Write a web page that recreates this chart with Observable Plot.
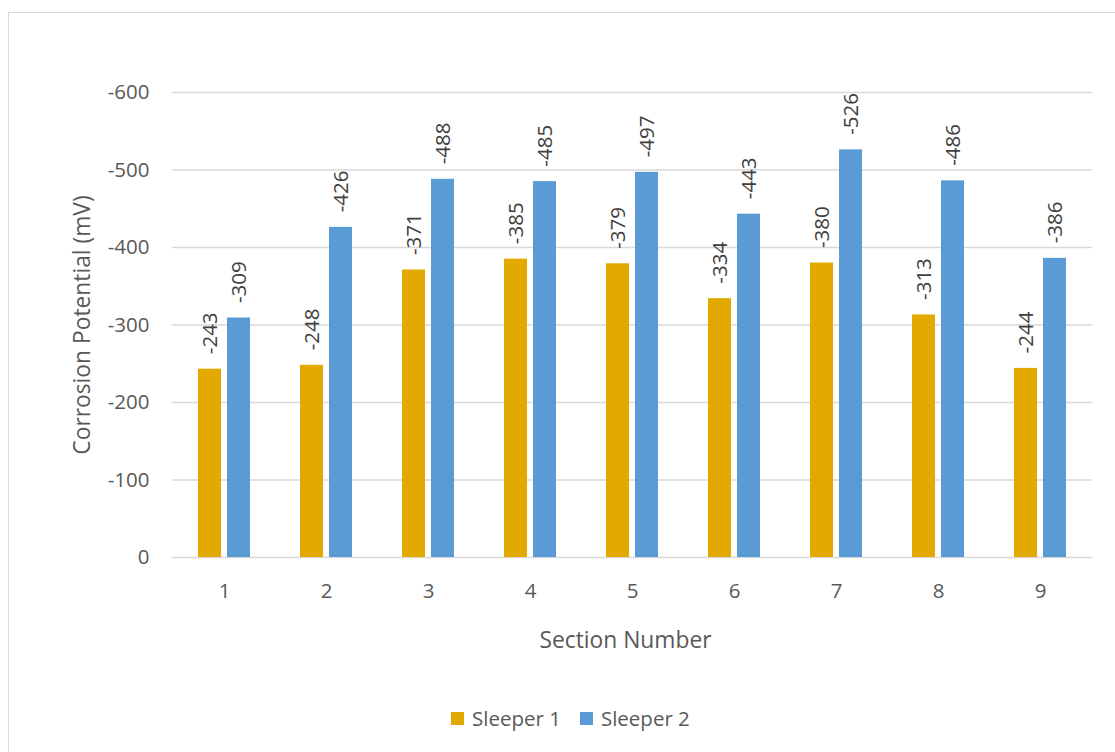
<!DOCTYPE html>
<html>
<head>
<meta charset="utf-8">
<script src="https://cdn.jsdelivr.net/npm/d3@7"></script>
<script src="https://cdn.jsdelivr.net/npm/@observablehq/plot@0.6"></script>
<style>
  html, body { margin: 0; padding: 0; background: #fff; }
  body { width: 1115px; height: 752px; position: relative; overflow: hidden; font-family: "Open Sans", sans-serif; }
  #frame { position: absolute; left: 8px; top: 12px; width: 1200px; height: 800px; border: 1px solid #d9d9d9; box-sizing: border-box; }
  #chart { position: absolute; left: 0; top: 0; }
  #legend { position: absolute; left: 451px; top: 704px; display: flex; align-items: center; font-size: 20.5px; color: #595959; }
  .item { display: flex; align-items: center; margin-right: 19px; }
  .swatch { width: 13px; height: 13px; margin-right: 8px; }
</style>
</head>
<body>
<div id="frame"></div>
<div id="chart"></div>
<div id="legend"></div>
<script>
// Half-cell corrosion potential per section, two sleepers (mV)
const sections = [1, 2, 3, 4, 5, 6, 7, 8, 9];
const sleeper1 = [-243, -248, -371, -385, -379, -334, -380, -313, -244];
const sleeper2 = [-309, -426, -488, -485, -497, -443, -526, -486, -386];
const yTicks = [0, -100, -200, -300, -400, -500, -600];
const seriesNames = ["Sleeper 1", "Sleeper 2"];
const seriesColors = ["#E2AA00", "#5B9BD5"];
const xTitle = "Section Number";
const yTitle = "Corrosion Potential (mV)";

const rows1 = sections.map((s, i) => ({section: s, value: sleeper1[i]}));
const rows2 = sections.map((s, i) => ({section: s, value: sleeper2[i]}));

const labelStyle = {fontSize: 20.5, fill: "#404040", rotate: -90, textAnchor: "start", lineAnchor: "middle", dy: -15};

const chart = Plot.plot({
  width: 1115,
  height: 680,
  marginLeft: 172,
  marginRight: 23,
  marginTop: 92,
  marginBottom: 123,
  style: {fontFamily: "Open Sans, sans-serif", fontSize: "20.5px", color: "#595959", background: "transparent"},
  x: {
    domain: sections,
    paddingInner: 0.49,
    paddingOuter: 0.245,
    tickSize: 0,
    tickPadding: 26,
    label: xTitle,
    labelAnchor: "center",
    labelOffset: 90
  },
  y: {
    domain: [0, -600],
    ticks: yTicks,
    tickSize: 0,
    tickPadding: 23,
    tickFormat: d => String(d),
    label: yTitle,
    labelAnchor: "center",
    labelOffset: 99
  },
  marks: [
    Plot.ruleY(yTicks, {stroke: "#d9d9d9", strokeWidth: 1.5}),
    Plot.barY(rows1, {x: "section", y1: 0, y2: "value", fill: seriesColors[0], insetRight: 29}),
    Plot.barY(rows2, {x: "section", y1: 0, y2: "value", fill: seriesColors[1], insetLeft: 29}),
    Plot.text(rows1, {x: "section", y: "value", text: d => String(d.value), dx: -14.5, ...labelStyle}),
    Plot.text(rows2, {x: "section", y: "value", text: d => String(d.value), dx: 14.5, ...labelStyle})
  ]
});

// Axis titles: plain text (no direction arrow), slightly larger than tick labels
const xLab = chart.querySelector("[aria-label='x-axis label'] text");
const yLab = chart.querySelector("[aria-label='y-axis label'] text");
if (xLab) {
  xLab.textContent = xTitle;
  xLab.style.fontSize = "22.8px";
  xLab.setAttribute("dx", "-7");
}
if (yLab) {
  yLab.textContent = yTitle;
  yLab.style.fontSize = "22.8px";
}
document.getElementById("chart").appendChild(chart);

const legend = document.getElementById("legend");
seriesNames.forEach((name, i) => {
  const item = document.createElement("div");
  item.className = "item";
  const sw = document.createElement("div");
  sw.className = "swatch";
  sw.style.background = seriesColors[i];
  const lab = document.createElement("span");
  lab.textContent = name;
  item.appendChild(sw);
  item.appendChild(lab);
  legend.appendChild(item);
});
</script>
</body>
</html>
